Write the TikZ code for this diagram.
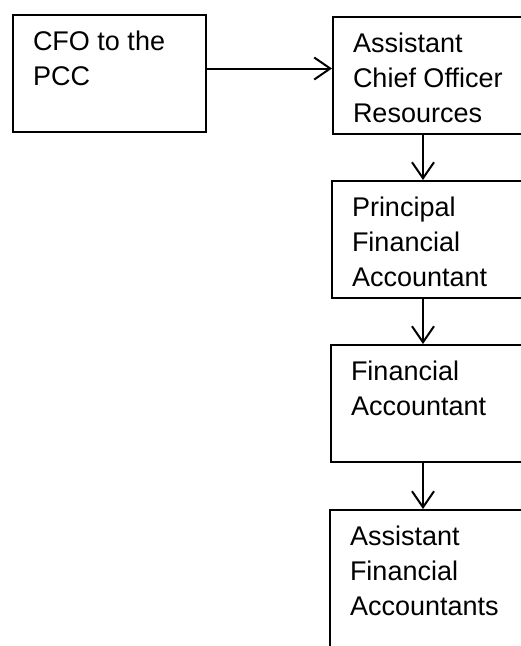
\documentclass[tikz,border=0pt]{standalone}
\usepackage{fontspec}
\setmainfont{Liberation Sans}
\usepackage{tikz}
\usetikzlibrary{arrows.meta}
\newcommand{\boxtext}[3][95pt]{\parbox[t][#1][t]{#2}{\raggedright\strut #3}}

\begin{document}
\begin{tikzpicture}[x=1pt, y=-1pt, line width=2pt,
	orgbox/.style={draw, rectangle, anchor=north west, inner xsep=20pt, inner ysep=11pt, font=\fontsize{27}{35}\selectfont},
	>={Straight Barb[length=16pt, width=22pt]}]
	\useasboundingbox (0,0) rectangle (521,646);
	\clip (0,0) rectangle (521,646);
	
	\node[orgbox] (cfo) at (12,14) {\boxtext{153pt}{CFO to the\\PCC}};
	
	\node[orgbox] (acor) at (332,16) {\boxtext{190pt}{Assistant\\Chief Officer\\Resources}};
	
	\node[orgbox] (pfa) at (331,180) {\boxtext{190pt}{Principal\\Financial\\Accountant}};
	
	\node[orgbox] (fa) at (330,344) {\boxtext{190pt}{Financial\\Accountant}};
	
	\node[orgbox] (afa) at (329,509) {\boxtext[160pt]{190pt}{Assistant\\Financial\\Accountants}};
	
	\coordinate (cfoout) at ([yshift=5pt]cfo.east);
	
	\draw[->] (cfoout) -- (cfoout -| acor.west);
	
	\draw[->] ([xshift=91pt]acor.south west) -- ([xshift=92pt]pfa.north west);
	
	\draw[->] ([xshift=92pt]pfa.south west) -- ([xshift=93pt]fa.north west);
	
	\draw[->] ([xshift=93pt]fa.south west) -- ([xshift=94pt]afa.north west);
\end{tikzpicture}
\end{document}
